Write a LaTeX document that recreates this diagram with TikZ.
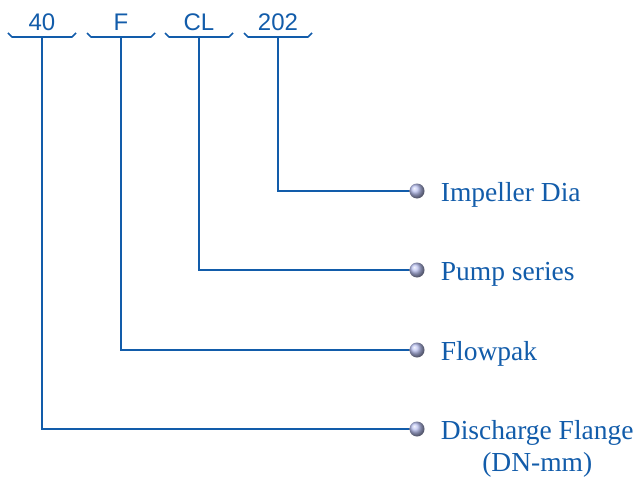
\documentclass[tikz,border=0pt]{standalone}
\usepackage{fontspec}
\setmainfont{Liberation Serif}
\setsansfont{Liberation Sans}
\usetikzlibrary{positioning}
\definecolor{codeblue}{RGB}{18,92,170}
\definecolor{ballblue}{RGB}{185,192,240}

\begin{document}
\begin{tikzpicture}[x=1pt,y=-1pt]
		\tikzstyle {code} = [text=codeblue, font=\sffamily\fontsize{24}{24}\selectfont, inner sep=0pt]
		\tikzstyle {brace} = [draw=codeblue, line width=1.6pt, line join=round]
		\tikzstyle {lead} = [draw=codeblue, line width=1.5pt]
		\tikzstyle {dot} = [circle, minimum size=15pt, inner sep=0pt, shading=ball, ball color=ballblue]
		\tikzstyle {item} = [text=codeblue, font=\fontsize{27.5}{32}\selectfont, inner sep=0pt]

		\useasboundingbox (0,0) rectangle (636,476);

		% code letters with their braces
		\foreach \x/\lbl/\id in {42/40/size, 121/F/make, 199/CL/series, 278/202/dia} {
			\node[code] (\id) at (\x,22) {\lbl};
			\draw[brace] ({\x-34},33) -- ({\x-30},37) -- ({\x+30},37) -- ({\x+34},33);
			\coordinate (\id-foot) at (\x,37);
		}

		% bullets
		\node[dot] (dia-dot) at (417,191) {};
		\node[dot] (series-dot) at (417,270) {};
		\node[dot] (make-dot) at (417,350) {};
		\node[dot] (size-dot) at (417,429) {};

		% meanings
		\node[item, anchor=base west] (dia-text) at ([xshift=16pt, yshift=-10pt]dia-dot.east) {Impeller Dia};
		\node[item, anchor=base west] (series-text) at ([xshift=16pt, yshift=-10pt]series-dot.east) {Pump series};
		\node[item, anchor=base west] (make-text) at ([xshift=16pt, yshift=-10pt]make-dot.east) {Flowpak};
		\node[item, anchor=base west] (size-text) at ([xshift=16pt, yshift=-10pt]size-dot.east) {Discharge Flange};
		\node[item, anchor=base] (size-unit) at ([yshift=-32pt]size-text.base) {(DN-mm)};

		% leaders
		\draw[lead] (dia-foot) |- (dia-dot.west);
		\draw[lead] (series-foot) |- (series-dot.west);
		\draw[lead] (make-foot) |- (make-dot.west);
		\draw[lead] (size-foot) |- (size-dot.west);
	\end{tikzpicture}
\end{document}
